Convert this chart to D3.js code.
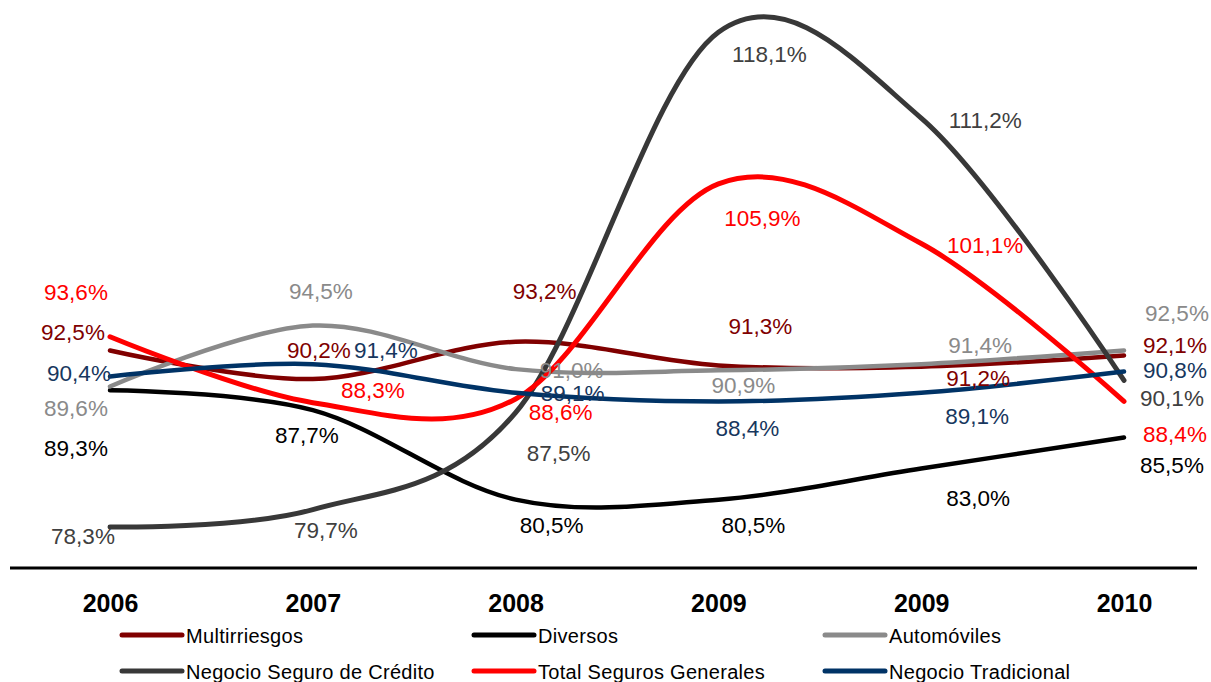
<!DOCTYPE html>
<html>
<head>
<meta charset="utf-8">
<script src="https://cdn.jsdelivr.net/npm/d3@7"></script>
<style>
  html, body { margin: 0; padding: 0; background: #fff; }
  svg { display: block; font-family: "Liberation Sans", Arial, sans-serif; }
</style>
</head>
<body>
<svg id="chart"></svg>
<script>
// categories (the picture repeats 2009)
var years = ["2006", "2007", "2008", "2009", "2009", "2010"];

var multirriesgos = [92.5, 90.2, 93.2, 91.3, 91.2, 92.1];
var diversos      = [89.3, 87.7, 80.5, 80.5, 83.0, 85.5];
var automoviles   = [89.6, 94.5, 91.0, 90.9, 91.4, 92.5];
var credito       = [78.3, 79.7, 87.5, 118.1, 111.2, 90.1];
var totalGen      = [93.6, 88.3, 88.6, 105.9, 101.1, 88.4];
var tradicional   = [90.4, 91.4, 89.1, 88.4, 89.1, 90.8];

var names = ["Multirriesgos", "Diversos", "Automóviles",
             "Negocio Seguro de Crédito", "Total Seguros Generales", "Negocio Tradicional"];

var width = 1211, height = 682;

var svg = d3.select("#chart").attr("width", width).attr("height", height);

// series styling, kept apart from the values
var series = [
  { name: names[0], values: multirriesgos, line: "#800000", text: "#800000", w: 4.5,
    dx: [-37, 6, 29, 42, 57, 51], dy: [-18, -29, -51, -39, 11, -10] },
  { name: names[1], values: diversos, line: "#000000", text: "#000000", w: 4.5,
    dx: [-34, -6, 36, 35, 57, 48], dy: [58, 25, 25, 25, 29, 28] },
  { name: names[2], values: automoviles, line: "#8a8a8a", text: "#8a8a8a", w: 4.5,
    dx: [-34, 8, 56, 25, 59, 53], dy: [21, -35, 1, 15, -19, -37] },
  { name: names[3], values: credito, line: "#383838", text: "#404040", w: 5,
    dx: [-27, 13, 43, 51, 64, 48], dy: [9, 20, 40, 22, 2, 18] },
  { name: names[4], values: totalGen, line: "#ff0000", text: "#ff0000", w: 5,
    dx: [-34, 60, 45, 44, 64, 51], dy: [-45, -13, 13, 34, 1, 33] },
  { name: names[5], values: tradicional, line: "#003366", text: "#17375e", w: 4.5,
    dx: [-31, 73, 57, 29, 56, 51], dy: [-4, -14, 0, 27, 23, -2] }
];

var x = d3.scalePoint()
  .domain(d3.range(years.length))
  .range([110, 1124]);

var y = d3.scaleLinear()
  .domain([75, 120])
  .range([568, 8.65]);

// smooth lines like the spreadsheet ones
var line = d3.line()
  .x(function (d, i) { return x(i); })
  .y(function (d) { return y(d); })
  .curve(d3.curveCardinal.tension(0));

svg.append("g").selectAll("path")
  .data(series)
  .enter()
  .append("path")
  .attr("fill", "none")
  .attr("stroke", function (d) { return d.line; })
  .attr("stroke-width", function (d) { return d.w; })
  .attr("stroke-linecap", "round")
  .attr("d", function (d) { return line(d.values); });

// data labels
var fmt = function (v) { return d3.format(".1f")(v).replace(".", ",") + "%"; };

series.forEach(function (s) {
  svg.append("g").selectAll("text")
    .data(s.values)
    .enter()
    .append("text")
    .attr("x", function (d, i) { return x(i) + s.dx[i]; })
    .attr("y", function (d, i) { return y(d) + s.dy[i] + 8; })
    .attr("text-anchor", "middle")
    .attr("fill", s.text)
    .style("font-size", "22.5px")
    .text(fmt);
});

// x axis: a plain rule and bold category names
svg.append("line")
  .attr("x1", 10).attr("x2", 1197)
  .attr("y1", y(75)).attr("y2", y(75))
  .attr("stroke", "#000")
  .attr("stroke-width", 3);

var xAxis = d3.axisBottom(x)
  .tickSize(0)
  .tickPadding(0)
  .tickFormat(function (i) { return years[i]; });

var ax = svg.append("g")
  .attr("transform", "translate(0,594)")
  .call(xAxis);
ax.select(".domain").remove();
ax.selectAll("text")
  .attr("fill", "#000")
  .attr("dy", "0.71em")
  .style("font-family", "'Liberation Sans', Arial, sans-serif")
  .style("font-size", "25px")
  .style("font-weight", "bold");

// legend, 3 columns x 2 rows
var legCols = [122, 474, 825];
var legRows = [635, 671];

var leg = svg.append("g").selectAll("g")
  .data(series)
  .enter()
  .append("g")
  .attr("transform", function (d, i) {
    return "translate(" + legCols[i % 3] + "," + legRows[Math.floor(i / 3)] + ")";
  });

leg.append("line")
  .attr("x1", 0).attr("x2", 60)
  .attr("stroke", function (d) { return d.line; })
  .attr("stroke-width", 5)
  .attr("stroke-linecap", "round");

leg.append("text")
  .attr("x", 64)
  .attr("y", 8)
  .attr("fill", "#000")
  .style("font-size", "20px")
  .style("letter-spacing", "0.3px")
  .text(function (d) { return d.name; });
</script>
</body>
</html>
